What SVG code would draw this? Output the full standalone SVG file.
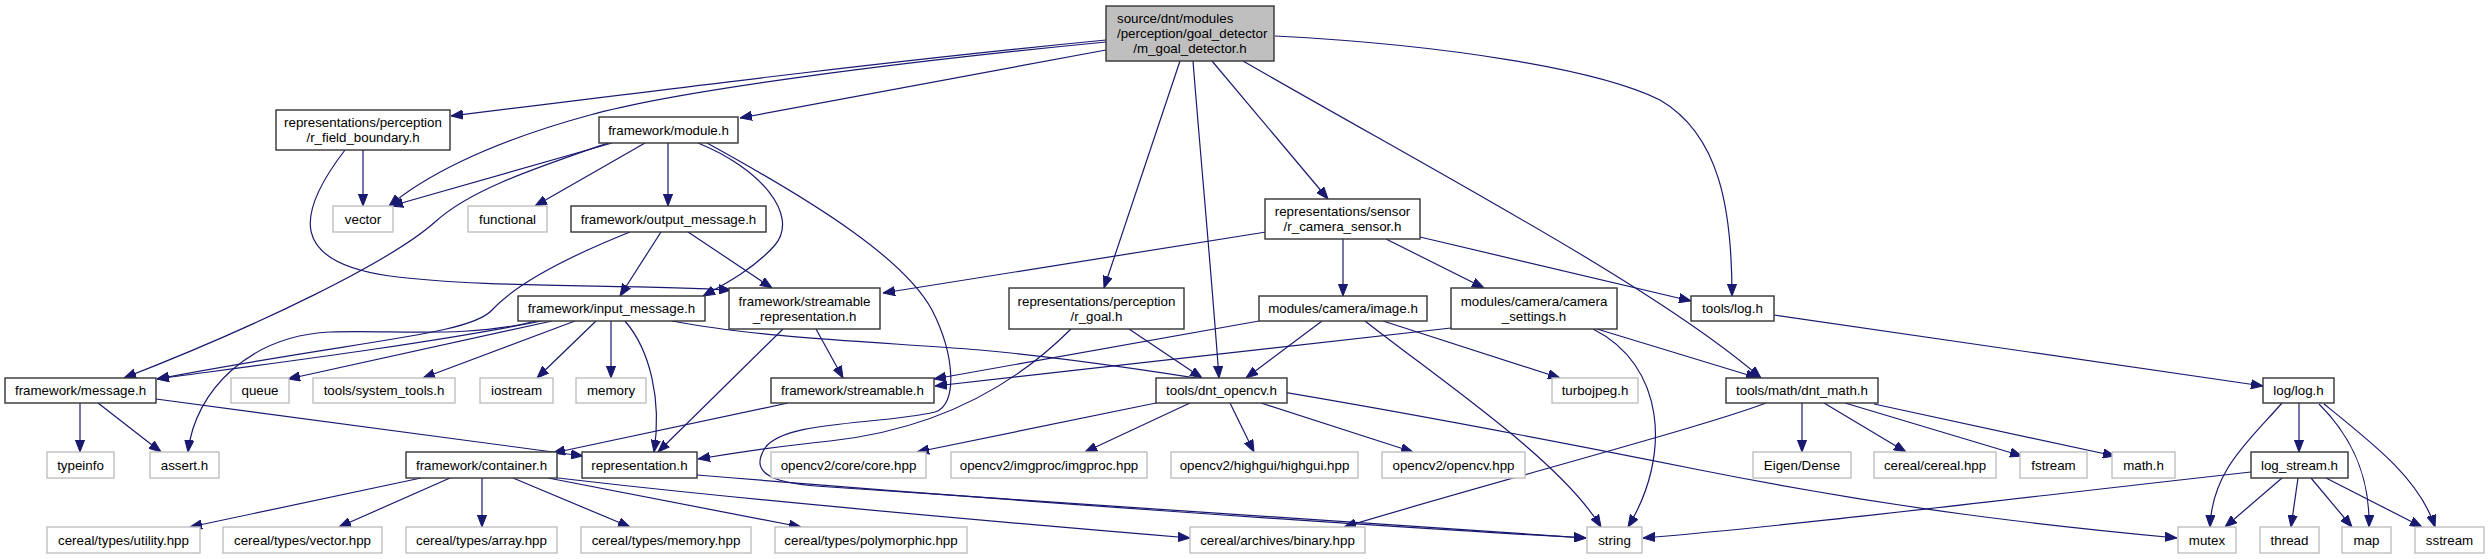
<svg xmlns="http://www.w3.org/2000/svg" width="2490" height="559" viewBox="0 0 2490 559">
<style>
text{font-family:"Liberation Sans",Arial,Helvetica,sans-serif;font-size:13.33px;fill:#000;text-anchor:middle}
.n rect{fill:#fff;stroke:#333;stroke-width:1.4}
.m rect{fill:#bfbfbf;stroke:#333;stroke-width:1.4}
.s rect{fill:#fff;stroke:#bfbfbf;stroke-width:1.4}
#edges path{fill:none;stroke:#191970;stroke-width:1.2;marker-end:url(#a)}
</style>
<defs>
<marker id="a" viewBox="0 0 12 10" refX="12" refY="5" markerWidth="12" markerHeight="10" markerUnits="userSpaceOnUse" orient="auto">
<path d="M0,0.4 L12,5 L0,9.6 z" fill="#191970" stroke="#191970" stroke-width="1"/>
</marker>
</defs>
<rect width="2490" height="559" fill="#fff"/>
<g id="edges">
<path d="M1106,40 C900,60 700,85 451,116"/>
<path d="M1106,42 C900,62 680,90 590,115 C480,145 420,180 389,206"/>
<path d="M1106,50 L740,118"/>
<path d="M1180,61 L1104,288"/>
<path d="M1193,61 C1200,150 1212,280 1219,378"/>
<path d="M1212,61 L1328,199"/>
<path d="M1243,61 C1450,180 1660,290 1761,378"/>
<path d="M1275,36 C1450,45 1600,70 1660,100 C1720,135 1732,210 1732,296"/>
<path d="M363,150 L363,206"/>
<path d="M345,150 C295,215 290,262 390,276 C480,288 620,284 731,290"/>
<path d="M612,143 L391,206"/>
<path d="M608,143 C530,170 470,190 435,222 C390,262 260,325 124,378"/>
<path d="M645,143 L535,206"/>
<path d="M668,143 L668,206"/>
<path d="M698,143 C760,168 800,215 775,245 C755,268 725,284 703,296"/>
<path d="M707,143 C820,205 905,260 932,310 C955,355 958,405 935,412 C880,425 785,420 765,448 C748,475 775,484 830,487 C1100,505 1400,527 1586,538"/>
<path d="M630,232 C560,260 515,285 492,310 C470,335 360,340 157,379"/>
<path d="M661,232 L620,296"/>
<path d="M688,232 L772,288"/>
<path d="M542,321 C420,345 260,365 157,379"/>
<path d="M552,321 L288,379"/>
<path d="M575,321 L423,378"/>
<path d="M596,321 L537,378"/>
<path d="M611,321 L611,378"/>
<path d="M625,321 C650,350 662,400 654,452"/>
<path d="M536,321 C470,338 400,330 330,332 C250,336 195,390 188,452"/>
<path d="M672,321 C760,338 880,342 980,350 C1150,365 1450,420 1700,470 C1900,510 2050,526 2177,538"/>
<path d="M783,329 L658,452"/>
<path d="M816,329 L843,378"/>
<path d="M80,403 L80,452"/>
<path d="M98,403 L161,452"/>
<path d="M156,399 L583,456"/>
<path d="M788,403 L553,453"/>
<path d="M1266,232 L883,293"/>
<path d="M1343,239 L1343,296"/>
<path d="M1386,239 L1484,288"/>
<path d="M1420,237 L1691,301"/>
<path d="M1259,321 L934,379"/>
<path d="M1322,321 L1246,378"/>
<path d="M1365,321 C1440,380 1560,460 1601,527"/>
<path d="M1383,321 L1560,378"/>
<path d="M1129,329 L1202,378"/>
<path d="M1071,329 C1010,390 930,430 830,441 C780,446 740,452 698,459"/>
<path d="M1451,328 L935,386"/>
<path d="M1593,329 C1665,365 1672,455 1628,527"/>
<path d="M1597,329 L1758,378"/>
<path d="M1774,315 L2263,386"/>
<path d="M1156,403 L917,452"/>
<path d="M1190,403 L1085,452"/>
<path d="M1230,403 L1254,452"/>
<path d="M1261,403 L1413,452"/>
<path d="M1766,403 C1700,428 1500,480 1344,527"/>
<path d="M1802,403 L1802,452"/>
<path d="M1824,403 L1906,452"/>
<path d="M1845,403 L2022,456"/>
<path d="M1874,404 L2115,456"/>
<path d="M2282,403 C2250,440 2212,470 2210,527"/>
<path d="M2299,403 L2299,452"/>
<path d="M2319,404 C2355,440 2370,480 2369,527"/>
<path d="M2324,404 C2375,445 2420,480 2435,527"/>
<path d="M2251,472 C2000,500 1800,525 1643,538"/>
<path d="M2282,478 L2225,527"/>
<path d="M2298,478 L2291,527"/>
<path d="M2311,478 L2352,527"/>
<path d="M2326,478 L2422,527"/>
<path d="M421,478 L190,527"/>
<path d="M450,478 L339,527"/>
<path d="M482,478 L482,527"/>
<path d="M513,478 L630,527"/>
<path d="M548,478 L801,527"/>
<path d="M550,477 C700,495 950,518 1190,538"/>
<path d="M697,475 C1000,500 1350,525 1586,538"/>
</g>
<g id="node-main" class="m"><rect x="1106" y="6" width="168" height="55"/><text x="1117" y="22.7" style="text-anchor:start">source/dnt/modules</text><text x="1117" y="37.7" style="text-anchor:start">/perception/goal_detector</text><text x="1190" y="52.7">/m_goal_detector.h</text></g>
<g id="node-r_field_boundary" class="n"><rect x="276" y="110" width="174" height="40"/><text x="363" y="127.2">representations/perception</text><text x="363" y="142.2">/r_field_boundary.h</text></g>
<g id="node-module" class="n"><rect x="599" y="117" width="139" height="26"/><text x="668.5" y="134.7">framework/module.h</text></g>
<g id="node-vector" class="s"><rect x="333" y="206" width="60" height="26"/><text x="363" y="223.7">vector</text></g>
<g id="node-functional" class="s"><rect x="468" y="206" width="79" height="26"/><text x="507.5" y="223.7">functional</text></g>
<g id="node-output_message" class="n"><rect x="571" y="206" width="195" height="26"/><text x="668.5" y="223.7">framework/output_message.h</text></g>
<g id="node-r_camera_sensor" class="n"><rect x="1265" y="199" width="155" height="40"/><text x="1342.5" y="216.2">representations/sensor</text><text x="1342.5" y="231.2">/r_camera_sensor.h</text></g>
<g id="node-input_message" class="n"><rect x="518" y="296" width="187" height="25"/><text x="611.5" y="313.2">framework/input_message.h</text></g>
<g id="node-streamable_representation" class="n"><rect x="729" y="288" width="151" height="41"/><text x="804.5" y="305.7">framework/streamable</text><text x="804.5" y="320.7">_representation.h</text></g>
<g id="node-r_goal" class="n"><rect x="1009" y="288" width="175" height="41"/><text x="1096.5" y="305.7">representations/perception</text><text x="1096.5" y="320.7">/r_goal.h</text></g>
<g id="node-image" class="n"><rect x="1259" y="296" width="168" height="25"/><text x="1343" y="313.2">modules/camera/image.h</text></g>
<g id="node-camera_settings" class="n"><rect x="1451" y="288" width="166" height="41"/><text x="1534" y="305.7">modules/camera/camera</text><text x="1534" y="320.7">_settings.h</text></g>
<g id="node-tools_log" class="n"><rect x="1691" y="296" width="83" height="25"/><text x="1732.5" y="313.2">tools/log.h</text></g>
<g id="node-message" class="n"><rect x="5" y="378" width="151" height="25"/><text x="80.5" y="395.2">framework/message.h</text></g>
<g id="node-queue" class="s"><rect x="231" y="378" width="58" height="25"/><text x="260" y="395.2">queue</text></g>
<g id="node-system_tools" class="s"><rect x="313" y="378" width="142" height="25"/><text x="384" y="395.2">tools/system_tools.h</text></g>
<g id="node-iostream" class="s"><rect x="480" y="378" width="73" height="25"/><text x="516.5" y="395.2">iostream</text></g>
<g id="node-memory" class="s"><rect x="576" y="378" width="70" height="25"/><text x="611" y="395.2">memory</text></g>
<g id="node-streamable" class="n"><rect x="771" y="378" width="163" height="25"/><text x="852.5" y="395.2">framework/streamable.h</text></g>
<g id="node-dnt_opencv" class="n"><rect x="1156" y="378" width="131" height="25"/><text x="1221.5" y="395.2">tools/dnt_opencv.h</text></g>
<g id="node-turbojpeg" class="s"><rect x="1552" y="378" width="86" height="25"/><text x="1595" y="395.2">turbojpeg.h</text></g>
<g id="node-dnt_math" class="n"><rect x="1726" y="378" width="152" height="25"/><text x="1802" y="395.2">tools/math/dnt_math.h</text></g>
<g id="node-log_log" class="n"><rect x="2263" y="378" width="71" height="25"/><text x="2298.5" y="395.2">log/log.h</text></g>
<g id="node-typeinfo" class="s"><rect x="47" y="452" width="67" height="26"/><text x="80.5" y="469.7">typeinfo</text></g>
<g id="node-assert" class="s"><rect x="150" y="452" width="69" height="26"/><text x="184.5" y="469.7">assert.h</text></g>
<g id="node-container" class="n"><rect x="406" y="452" width="151" height="26"/><text x="481.5" y="469.7">framework/container.h</text></g>
<g id="node-representation" class="n"><rect x="582" y="452" width="115" height="26"/><text x="639.5" y="469.7">representation.h</text></g>
<g id="node-core" class="s"><rect x="771" y="452" width="155" height="26"/><text x="848.5" y="469.7">opencv2/core/core.hpp</text></g>
<g id="node-imgproc" class="s"><rect x="951" y="452" width="196" height="26"/><text x="1049" y="469.7">opencv2/imgproc/imgproc.hpp</text></g>
<g id="node-highgui" class="s"><rect x="1171" y="452" width="187" height="26"/><text x="1264.5" y="469.7">opencv2/highgui/highgui.hpp</text></g>
<g id="node-opencv" class="s"><rect x="1382" y="452" width="143" height="26"/><text x="1453.5" y="469.7">opencv2/opencv.hpp</text></g>
<g id="node-eigen" class="s"><rect x="1753" y="452" width="98" height="26"/><text x="1802" y="469.7">Eigen/Dense</text></g>
<g id="node-cereal" class="s"><rect x="1874" y="452" width="122" height="26"/><text x="1935" y="469.7">cereal/cereal.hpp</text></g>
<g id="node-fstream" class="s"><rect x="2020" y="452" width="67" height="26"/><text x="2053.5" y="469.7">fstream</text></g>
<g id="node-math" class="s"><rect x="2112" y="452" width="63" height="26"/><text x="2143.5" y="469.7">math.h</text></g>
<g id="node-log_stream" class="n"><rect x="2251" y="452" width="97" height="26"/><text x="2299.5" y="469.7">log_stream.h</text></g>
<g id="node-utility" class="s"><rect x="47" y="527" width="153" height="26"/><text x="123.5" y="544.7">cereal/types/utility.hpp</text></g>
<g id="node-vector_hpp" class="s"><rect x="223" y="527" width="159" height="26"/><text x="302.5" y="544.7">cereal/types/vector.hpp</text></g>
<g id="node-array" class="s"><rect x="406" y="527" width="151" height="26"/><text x="481.5" y="544.7">cereal/types/array.hpp</text></g>
<g id="node-memory_hpp" class="s"><rect x="581" y="527" width="170" height="26"/><text x="666" y="544.7">cereal/types/memory.hpp</text></g>
<g id="node-polymorphic" class="s"><rect x="775" y="527" width="192" height="26"/><text x="871" y="544.7">cereal/types/polymorphic.hpp</text></g>
<g id="node-binary" class="s"><rect x="1190" y="527" width="175" height="26"/><text x="1277.5" y="544.7">cereal/archives/binary.hpp</text></g>
<g id="node-string" class="s"><rect x="1587" y="527" width="55" height="26"/><text x="1614.5" y="544.7">string</text></g>
<g id="node-mutex" class="s"><rect x="2178" y="527" width="58" height="26"/><text x="2207" y="544.7">mutex</text></g>
<g id="node-thread" class="s"><rect x="2260" y="527" width="59" height="26"/><text x="2289.5" y="544.7">thread</text></g>
<g id="node-map" class="s"><rect x="2342" y="527" width="49" height="26"/><text x="2366.5" y="544.7">map</text></g>
<g id="node-sstream" class="s"><rect x="2415" y="527" width="69" height="26"/><text x="2449.5" y="544.7">sstream</text></g>
</svg>
